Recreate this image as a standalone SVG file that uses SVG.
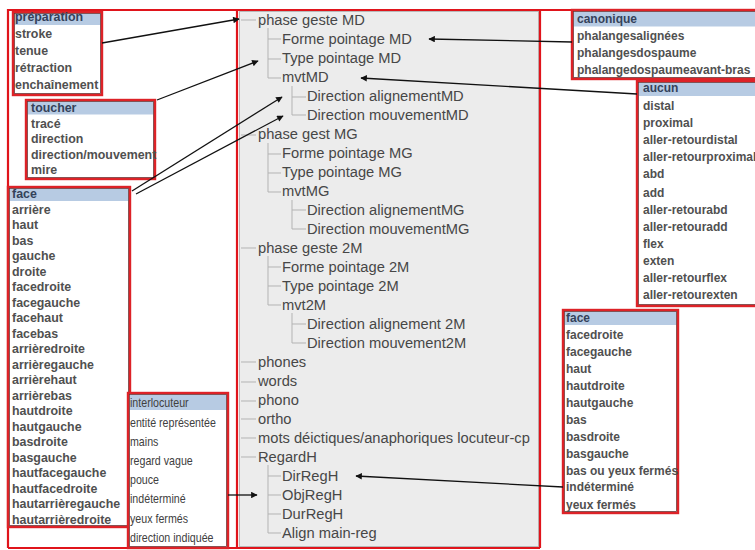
<svg xmlns="http://www.w3.org/2000/svg" width="755" height="550" viewBox="0 0 755 550">
<defs>
<marker id="ah" viewBox="0 0 10 10" refX="9" refY="5" markerWidth="9" markerHeight="6.5" markerUnits="userSpaceOnUse" orient="auto"><path d="M0,0 L10,5 L0,10 z" fill="#111"/></marker>
<style>
.frame{fill:none;stroke:#e0141b;stroke-width:2.2}
.panel{fill:#ececec;stroke:#b9b9b9;stroke-width:1}
.box{fill:#fff;stroke:#dd2227;stroke-width:2.4}
.inner{fill:none;stroke:#6e3434;stroke-width:0.8}
.hd{fill:#b7cbe3}
.b{font-family:"Liberation Sans",Arial,sans-serif;font-weight:bold;font-size:12.4px;fill:#505050}
.bs{font-family:"Liberation Sans",Arial,sans-serif;font-weight:bold;font-size:12px;fill:#505050}
.h{fill:#34425a}
.n{font-family:"Liberation Sans",Arial,sans-serif;font-size:13px;fill:#404040}
.t{font-family:"Liberation Sans",Arial,sans-serif;font-size:14.7px;fill:#474747}
.tl{stroke:#b3b3b3;stroke-width:1;fill:none}
.c{stroke:#111;stroke-width:1.3;fill:none;marker-end:url(#ah)}
</style>
</defs>
<rect width="755" height="550" fill="#fff"/>
<rect class="panel" x="239.5" y="11.5" width="299" height="535"/>
<path class="frame" d="M8,548 L8,10 L755,10 M237,10 L237,548 M540,10 L540,548 M8,548 L540,548"/>

<g id="tree">
<path class="tl" d="M241,20H256 M241,135H256 M241,248H256 M241,362H256 M241,382H256 M241,401H256 M241,419H256 M241,438H256 M241,457H256
M268,28V78 M268,39H281 M268,59H281 M268,78H281 M292,86V115 M292,97H306 M292,115H306
M268,143V192 M268,154H281 M268,173H281 M268,192H281 M292,200V229 M292,210H306 M292,229H306
M268,256V305 M268,267H281 M268,286H281 M268,305H281 M292,313V343 M292,324H306 M292,343H306
M268,465V533 M268,476H281 M268,495H281 M268,514H281 M268,533H281"/>
<text class="t" x="258" y="25">phase geste MD</text>
<text class="t" x="282" y="44">Forme pointage MD</text>
<text class="t" x="282" y="63">Type pointage MD</text>
<text class="t" x="282" y="82">mvtMD</text>
<text class="t" x="307" y="101">Direction alignementMD</text>
<text class="t" x="307" y="120">Direction mouvementMD</text>
<text class="t" x="258" y="139">phase gest MG</text>
<text class="t" x="282" y="158">Forme pointage MG</text>
<text class="t" x="282" y="177">Type pointage MG</text>
<text class="t" x="282" y="196">mvtMG</text>
<text class="t" x="307" y="215">Direction alignementMG</text>
<text class="t" x="307" y="234">Direction mouvementMG</text>
<text class="t" x="258" y="253">phase geste 2M</text>
<text class="t" x="282" y="272">Forme pointage 2M</text>
<text class="t" x="282" y="291">Type pointage 2M</text>
<text class="t" x="282" y="310">mvt2M</text>
<text class="t" x="307" y="329">Direction alignement 2M</text>
<text class="t" x="307" y="348">Direction mouvement2M</text>
<text class="t" x="258" y="367">phones</text>
<text class="t" x="258" y="386">words</text>
<text class="t" x="258" y="405">phono</text>
<text class="t" x="258" y="424">ortho</text>
<text class="t" x="258" y="443">mots déictiques/anaphoriques locuteur-cp</text>
<text class="t" x="258" y="462">RegardH</text>
<text class="t" x="282" y="481">DirRegH</text>
<text class="t" x="282" y="500">ObjRegH</text>
<text class="t" x="282" y="519">DurRegH</text>
<text class="t" x="282" y="538">Align main-reg</text>
</g>

<g id="preparation">
<rect class="box" x="13" y="12" width="89" height="83"/>
<rect class="hd" x="14.5" y="13.5" width="86" height="11.5"/>
<rect class="inner" x="14.5" y="13.5" width="86" height="80"/>
<text class="b h" x="15" y="21">préparation</text>
<text class="b" x="15" y="38">stroke</text>
<text class="b" x="15" y="55">tenue</text>
<text class="b" x="15" y="72">rétraction</text>
<text class="b" x="15" y="89">enchaînement</text>
</g>

<g id="toucher">
<rect class="box" x="26" y="100" width="129" height="79"/>
<rect class="hd" x="27.5" y="101.5" width="126" height="13"/>
<rect class="inner" x="27.5" y="101.5" width="126" height="76"/>
<text class="b h" x="31" y="112">toucher</text>
<text class="b" x="31" y="127.5">tracé</text>
<text class="b" x="31" y="143">direction</text>
<text class="b" x="31" y="158.5">direction/mouvement</text>
<text class="b" x="31" y="174">mire</text>
</g>

<g id="face-left">
<rect class="box" x="8" y="187" width="122" height="340"/>
<rect class="hd" x="9.5" y="188.5" width="119" height="12.5"/>
<rect class="inner" x="9.5" y="188.5" width="119" height="337"/>
<text class="b h" x="12" y="198">face</text>
<text class="b" x="12" y="213.5">arrière</text>
<text class="b" x="12" y="229">haut</text>
<text class="b" x="12" y="244.5">bas</text>
<text class="b" x="12" y="260">gauche</text>
<text class="b" x="12" y="275.5">droite</text>
<text class="b" x="12" y="291">facedroite</text>
<text class="b" x="12" y="306.5">facegauche</text>
<text class="b" x="12" y="322">facehaut</text>
<text class="b" x="12" y="337.5">facebas</text>
<text class="b" x="12" y="353">arrièredroite</text>
<text class="b" x="12" y="368.5">arrièregauche</text>
<text class="b" x="12" y="384">arrièrehaut</text>
<text class="b" x="12" y="399.5">arrièrebas</text>
<text class="b" x="12" y="415">hautdroite</text>
<text class="b" x="12" y="430.5">hautgauche</text>
<text class="b" x="12" y="446">basdroite</text>
<text class="b" x="12" y="461.5">basgauche</text>
<text class="b" x="12" y="477">hautfacegauche</text>
<text class="b" x="12" y="492.5">hautfacedroite</text>
<text class="b" x="12" y="508">hautarrièregauche</text>
<text class="b" x="12" y="523.5">hautarrièredroite</text>
</g>

<g id="interlocuteur">
<rect class="box" x="128" y="393" width="100" height="155"/>
<rect class="hd" x="129.5" y="394.5" width="97" height="15.5"/>
<rect class="inner" x="129.5" y="394.5" width="97" height="152"/>
<g transform="translate(130,0) scale(0.82,1)">
<text class="n h" x="0" y="407.5">interlocuteur</text>
<text class="n" x="0" y="427">entité représentée</text>
<text class="n" x="0" y="446">mains</text>
<text class="n" x="0" y="465.5">regard vague</text>
<text class="n" x="0" y="484.5">pouce</text>
<text class="n" x="0" y="503.5">indéterminé</text>
<text class="n" x="0" y="523">yeux fermés</text>
<text class="n" x="0" y="542.5">direction indiquée</text>
</g>
</g>

<g id="canonique">
<rect class="box" x="572" y="10" width="195" height="69"/>
<rect class="hd" x="573.5" y="11.5" width="190" height="15"/>
<rect class="inner" x="573.5" y="11.5" width="192" height="66"/>
<text class="bs h" x="577" y="23">canonique</text>
<text class="bs" x="577" y="40">phalangesalignées</text>
<text class="bs" x="577" y="57">phalangesdospaume</text>
<text class="bs" x="577" y="74">phalangedospaumeavant-bras</text>
</g>

<g id="aucun">
<rect class="box" x="637" y="81" width="130" height="225"/>
<rect class="hd" x="638.5" y="82.5" width="125" height="13.5"/>
<rect class="inner" x="638.5" y="82.5" width="127" height="222"/>
<text class="bs h" x="643" y="92">aucun</text>
<text class="bs" x="643" y="109.5">distal</text>
<text class="bs" x="643" y="126.5">proximal</text>
<text class="bs" x="643" y="144">aller-retourdistal</text>
<text class="bs" x="643" y="161">aller-retourproximal</text>
<text class="bs" x="643" y="178">abd</text>
<text class="bs" x="643" y="196.5">add</text>
<text class="bs" x="643" y="213.5">aller-retourabd</text>
<text class="bs" x="643" y="230.5">aller-retouradd</text>
<text class="bs" x="643" y="248">flex</text>
<text class="bs" x="643" y="265">exten</text>
<text class="bs" x="643" y="282">aller-retourflex</text>
<text class="bs" x="643" y="299">aller-retourexten</text>
</g>

<g id="face-right">
<rect class="box" x="563" y="310" width="115" height="203"/>
<rect class="hd" x="564.5" y="311.5" width="112" height="13.5"/>
<rect class="inner" x="564.5" y="311.5" width="112" height="200"/>
<text class="bs h" x="566" y="322">face</text>
<text class="bs" x="566" y="339">facedroite</text>
<text class="bs" x="566" y="356">facegauche</text>
<text class="bs" x="566" y="373">haut</text>
<text class="bs" x="566" y="389.5">hautdroite</text>
<text class="bs" x="566" y="407">hautgauche</text>
<text class="bs" x="566" y="424">bas</text>
<text class="bs" x="566" y="441">basdroite</text>
<text class="bs" x="566" y="457.5">basgauche</text>
<text class="bs" x="566" y="474.5">bas ou yeux fermés</text>
<text class="bs" x="566" y="491">indéterminé</text>
<text class="bs" x="566" y="509">yeux fermés</text>
</g>

<g id="connectors">
<line class="c" x1="102" y1="43" x2="239" y2="19"/>
<line class="c" x1="157" y1="100" x2="258" y2="61"/>
<line class="c" x1="132" y1="191" x2="282" y2="97"/>
<line class="c" x1="136" y1="194" x2="283" y2="116"/>
<line class="c" x1="572" y1="42" x2="429" y2="39"/>
<line class="c" x1="637" y1="94" x2="361" y2="78"/>
<line class="c" x1="563" y1="487" x2="356" y2="476"/>
<line class="c" x1="228" y1="495" x2="257" y2="495"/>
</g>
</svg>
